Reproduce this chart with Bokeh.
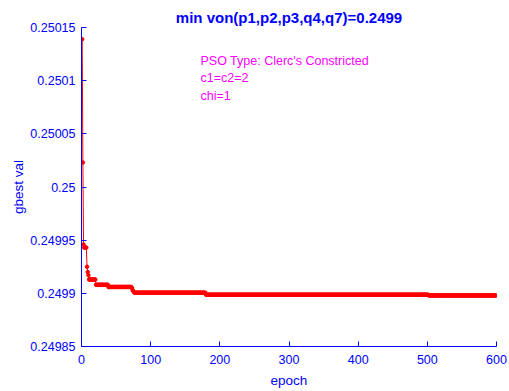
import numpy as np
from bokeh.plotting import figure
from bokeh.models import Range1d, FixedTicker, CustomJSTickFormatter, Label
from bokeh.embed import file_html
from bokeh.resources import INLINE

# gbest value per epoch, stored as runs: (last epoch of run, value)
run_end_epoch = [1, 2, 3, 7, 8, 9, 10, 20, 38, 72, 73, 74, 75, 76, 179, 501, 600]
run_value = [0.250139, 0.250023, 0.249946, 0.249943, 0.249925, 0.249920,
             0.249917, 0.249913, 0.249908, 0.249906, 0.249905, 0.249903,
             0.249902, 0.249901, 0.2499006, 0.2498987, 0.249898]

x_ticks = [0, 100, 200, 300, 400, 500, 600]
y_ticks = [0.24985, 0.2499, 0.24995, 0.25, 0.25005, 0.2501, 0.25015]

title_text = "min von(p1,p2,p3,q4,q7)=0.2499"
notes = ["PSO Type: Clerc's Constricted", "c1=c2=2", "chi=1"]

epochs = []
vals = []
start = 1
for end, v in zip(run_end_epoch, run_value):
    for e in range(start, end + 1):
        epochs.append(e)
        vals.append(v)
    start = end + 1

FONT = "Liberation Sans"
BLUE = "#0000ff"

p = figure(width=508, height=390, output_backend="svg", toolbar_location=None,
           x_range=Range1d(0, 600), y_range=Range1d(0.24985, 0.25015),
           min_border_left=81, min_border_right=12, min_border_top=27,
           min_border_bottom=39)
p.outline_line_color = None
p.xgrid.visible = False
p.ygrid.visible = False
p.background_fill_color = "white"
p.border_fill_color = "white"

p.title.text = title_text
p.title.align = "center"
p.title.text_color = BLUE
p.title.text_font = FONT
p.title.text_font_size = "15px"
p.title.text_font_style = "bold"
p.title.offset = 0
p.title.standoff = 4

for ax in (p.xaxis[0], p.yaxis[0]):
    ax.axis_line_color = BLUE
    ax.major_tick_line_color = BLUE
    ax.major_tick_in = 5
    ax.major_tick_out = 0
    ax.minor_tick_line_color = None
    ax.major_label_text_color = BLUE
    ax.major_label_text_font = FONT
    ax.major_label_text_font_size = "12.5px"
    ax.axis_label_text_color = BLUE
    ax.axis_label_text_font = FONT
    ax.axis_label_text_font_size = "13.5px"
    ax.axis_label_text_font_style = "normal"

p.xaxis.ticker = FixedTicker(ticks=x_ticks)
p.yaxis.ticker = FixedTicker(ticks=y_ticks)
p.yaxis.formatter = CustomJSTickFormatter(code="return parseFloat(tick.toFixed(5)).toString();")
p.xaxis.axis_label = "epoch"
p.yaxis.axis_label = "gbest val"
p.xaxis.major_label_standoff = 8
p.xaxis.axis_label_standoff = 6
p.yaxis.major_label_standoff = 6
p.yaxis.axis_label_standoff = 1

p.line(epochs, vals, line_color="red", line_width=1)
p.scatter(epochs, vals, size=3.5, color="red")

for i, t in enumerate(notes):
    p.add_layout(Label(x=172, y=286 - i * 17.5, x_units="data", y_units="screen",
                       text=t, text_color="#ff00ff", text_font=FONT, text_font_size="12.5px",
                       text_baseline="middle"))

open("out.html", "w").write(file_html(p, INLINE))
